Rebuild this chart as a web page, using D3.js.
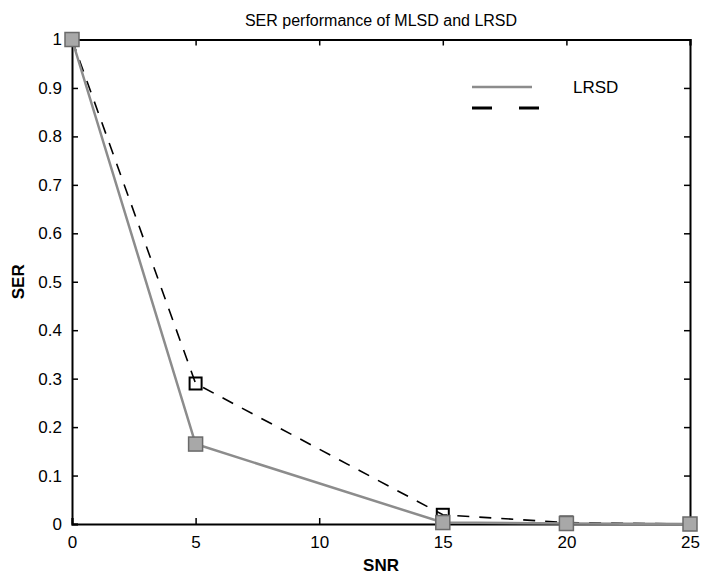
<!DOCTYPE html>
<html>
<head>
<meta charset="utf-8">
<script src="https://cdn.jsdelivr.net/npm/d3@7"></script>
<style>
  body { margin: 0; background: #fff; }
  svg { display: block; font-family: "Liberation Sans", Arial, sans-serif; }
</style>
</head>
<body>
<svg id="chart" width="702" height="577"></svg>
<script>
// data
const snr = [0, 5, 15, 20, 25];
const lrsd = [1.0, 0.165, 0.003, 0.001, 0.0];
const mlsd = [1.0, 0.29, 0.019, 0.003, 0.0];
const xTicks = [0, 5, 10, 15, 20, 25];
const yTicks = [0, 0.1, 0.2, 0.3, 0.4, 0.5, 0.6, 0.7, 0.8, 0.9, 1];
const legendLabels = ['LRSD', ''];

const margin = { top: 39.5, right: 12, bottom: 53, left: 72 };
const W = 702, H = 577;
const width = W - margin.left - margin.right;
const height = H - margin.top - margin.bottom;

const svg = d3.select('#chart');
const g = svg.append('g')
  .attr('transform', 'translate(' + margin.left + ',' + margin.top + ')');

const x = d3.scaleLinear().domain([0, 25]).range([0, width]);
const y = d3.scaleLinear().domain([0, 1]).range([height, 0]);

const tickLen = 6;

// axes, ticks pointing inward on all four sides
const fmtY = d => d === 0 ? '0' : d === 1 ? '1' : d3.format('.1f')(d);

g.append('g')
  .attr('transform', 'translate(0,' + height + ')')
  .call(d3.axisBottom(x).tickValues(xTicks).tickSize(-tickLen).tickPadding(12).tickFormat(d3.format('d')))
  .call(a => a.selectAll('text').attr('font-size', 17).attr('fill', '#000'));

g.append('g')
  .call(d3.axisLeft(y).tickValues(yTicks).tickSize(-tickLen).tickPadding(10).tickFormat(fmtY))
  .call(a => a.selectAll('text').attr('font-size', 17).attr('fill', '#000'));

g.append('g')
  .call(d3.axisTop(x).tickValues(xTicks).tickSize(-tickLen).tickFormat(''));

g.append('g')
  .attr('transform', 'translate(' + width + ',0)')
  .call(d3.axisRight(y).tickValues(yTicks).tickSize(-tickLen).tickFormat(''));

g.selectAll('.domain').attr('stroke', '#000').attr('stroke-width', 2);
g.selectAll('.tick line').attr('stroke', '#000').attr('stroke-width', 1.5);

// lines
const line = d3.line().x(d => x(d[0])).y(d => y(d[1]));

g.append('path')
  .datum(snr.map((s, i) => [s, mlsd[i]]))
  .attr('d', line)
  .attr('fill', 'none')
  .attr('stroke', '#000')
  .attr('stroke-width', 1.6)
  .attr('stroke-dasharray', '12,10');

g.append('path')
  .datum(snr.map((s, i) => [s, lrsd[i]]))
  .attr('d', line)
  .attr('fill', 'none')
  .attr('stroke', '#8c8c8c')
  .attr('stroke-width', 2.5);

// markers
g.selectAll('.m-mlsd')
  .data(snr.map((s, i) => [s, mlsd[i]]))
  .enter().append('rect')
  .attr('class', 'm-mlsd')
  .attr('x', d => x(d[0]) - 6)
  .attr('y', d => y(d[1]) - 6)
  .attr('width', 12)
  .attr('height', 12)
  .attr('fill', 'none')
  .attr('stroke', '#000')
  .attr('stroke-width', 2);

g.selectAll('.m-lrsd')
  .data(snr.map((s, i) => [s, lrsd[i]]))
  .enter().append('rect')
  .attr('class', 'm-lrsd')
  .attr('x', d => x(d[0]) - 7)
  .attr('y', d => y(d[1]) - 7)
  .attr('width', 14)
  .attr('height', 14)
  .attr('fill', '#a8a8a8')
  .attr('stroke', '#6a6a6a')
  .attr('stroke-width', 1.5);

// legend (only the first entry is labelled)
const leg = svg.append('g').attr('transform', 'translate(472,87)');
leg.append('line')
  .attr('x1', 0).attr('x2', 60).attr('y1', 0).attr('y2', 0)
  .attr('stroke', '#8c8c8c').attr('stroke-width', 2.5);
leg.append('line')
  .attr('x1', 0).attr('x2', 73).attr('y1', 21).attr('y2', 21)
  .attr('stroke', '#000').attr('stroke-width', 3)
  .attr('stroke-dasharray', '20,27');
leg.selectAll('.lt')
  .data(legendLabels)
  .enter().append('text')
  .attr('x', 101)
  .attr('y', (d, i) => i * 21 + 6)
  .attr('font-size', 17)
  .text(d => d);

// title and axis labels
svg.append('text')
  .attr('x', margin.left + width / 2)
  .attr('y', 26)
  .attr('text-anchor', 'middle')
  .attr('font-size', 16)
  .text('SER performance of MLSD and LRSD');

svg.append('text')
  .attr('x', margin.left + width / 2)
  .attr('y', 571)
  .attr('text-anchor', 'middle')
  .attr('font-size', 17)
  .attr('font-weight', 'bold')
  .text('SNR');

svg.append('text')
  .attr('transform', 'translate(24,' + (margin.top + height / 2) + ') rotate(-90)')
  .attr('text-anchor', 'middle')
  .attr('font-size', 17)
  .attr('font-weight', 'bold')
  .text('SER');
</script>
</body>
</html>
